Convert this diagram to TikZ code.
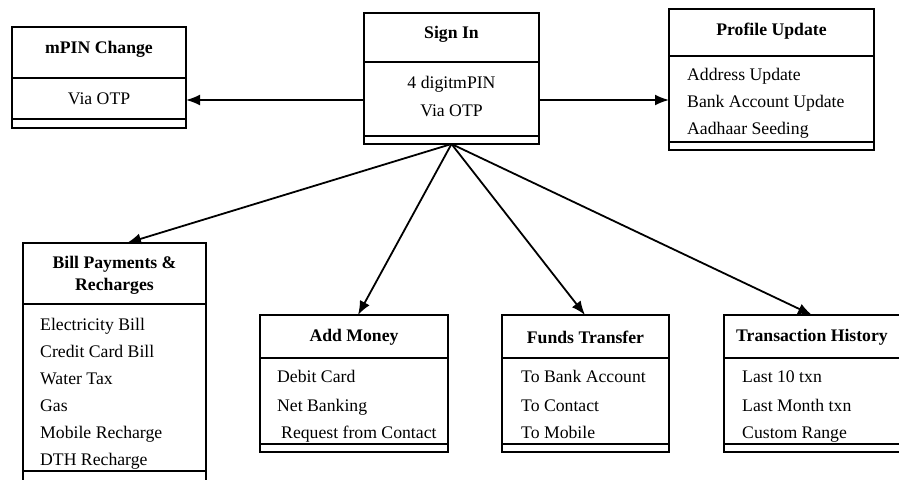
\documentclass[tikz,border=0pt]{standalone}
\usepackage{fontspec}
\setmainfont{Liberation Serif}
\usetikzlibrary{arrows.meta}
\begin{document}
\begin{tikzpicture}[x=1pt,y=-1pt,
  boxframe/.style={draw, line width=1.6pt, inner sep=0pt, outer sep=0pt, anchor=north west},
  divline/.style={line width=1.6pt},
  bandline/.style={line width=2.8pt},
  ttl/.style={font=\fontsize{17.7}{20}\selectfont\bfseries, align=center, inner sep=0pt},
  itm/.style={font=\fontsize{17.7}{20}\selectfont, anchor=west, inner sep=0pt, text height=12pt, text depth=4pt},
  itmc/.style={font=\fontsize{17.7}{20}\selectfont, inner sep=0pt, text height=12pt, text depth=4pt},
  conn/.style={line width=1.8pt, -{Latex[length=14pt,width=11pt]}}]
\useasboundingbox (0,0) rectangle (899,479);
\clip (0,0) rectangle (899,479);

% ---- Sign In
\node[boxframe, minimum width=175pt, minimum height=131pt] (signin) at (364,13) {};
\draw[divline] ([yshift=-49pt]signin.north west) -- ([yshift=-49pt]signin.north east);
\draw[bandline] ([yshift=8pt]signin.south west) -- ([yshift=8pt]signin.south east);
\node[ttl] (signinT) at (451.5,34) {Sign In};
\node[itmc] (signin1) at (451.5,84) {4 digitmPIN};
\node[itmc] (signin2) at (451.5,112) {Via OTP};

% ---- mPIN Change
\node[boxframe, minimum width=174pt, minimum height=101pt] (mpin) at (12,27) {};
\draw[divline] ([yshift=-51pt]mpin.north west) -- ([yshift=-51pt]mpin.north east);
\draw[bandline] ([yshift=9pt]mpin.south west) -- ([yshift=9pt]mpin.south east);
\node[ttl] (mpinT) at (99,49) {mPIN Change};
\node[itmc] (mpin1) at (99,100) {Via OTP};

% ---- Profile Update
\node[boxframe, minimum width=205pt, minimum height=141pt] (prof) at (669,9) {};
\draw[divline] ([yshift=-47pt]prof.north west) -- ([yshift=-47pt]prof.north east);
\draw[bandline] ([yshift=8pt]prof.south west) -- ([yshift=8pt]prof.south east);
\node[ttl] (profT) at (771.5,31) {Profile Update};
\node[itm] (prof1) at (687,76) {Address Update};
\node[itm] (prof2) at (687,103) {Bank Account Update};
\node[itm] (prof3) at (687,130) {Aadhaar Seeding};

% ---- Bill Payments & Recharges
\node[boxframe, minimum width=183pt, minimum height=238pt] (bill) at (23,243) {};
\draw[divline] ([yshift=-61pt]bill.north west) -- ([yshift=-61pt]bill.north east);
\draw[bandline] ([yshift=10pt]bill.south west) -- ([yshift=10pt]bill.south east);
\node[ttl] (billT) at (114.5,275) {Bill Payments \&\\[2pt]Recharges};
\node[itm] (bill1) at (40,326) {Electricity Bill};
\node[itm] (bill2) at (40,353) {Credit Card Bill};
\node[itm] (bill3) at (40,380) {Water Tax};
\node[itm] (bill4) at (40,407) {Gas};
\node[itm] (bill5) at (40,434) {Mobile Recharge};
\node[itm] (bill6) at (40,461) {DTH Recharge};

% ---- Add Money
\node[boxframe, minimum width=188pt, minimum height=137pt] (add) at (260,315) {};
\draw[divline] ([yshift=-43pt]add.north west) -- ([yshift=-43pt]add.north east);
\draw[bandline] ([yshift=8pt]add.south west) -- ([yshift=8pt]add.south east);
\node[ttl] (addT) at (354,337) {Add Money};
\node[itm] (add1) at (277,378) {Debit Card};
\node[itm] (add2) at (277,407) {Net Banking};
\node[itm] (add3) at (281,434) {Request from Contact};

% ---- Funds Transfer
\node[boxframe, minimum width=167pt, minimum height=137pt] (funds) at (502,315) {};
\draw[divline] ([yshift=-43pt]funds.north west) -- ([yshift=-43pt]funds.north east);
\draw[bandline] ([yshift=8pt]funds.south west) -- ([yshift=8pt]funds.south east);
\node[ttl] (fundsT) at (585.5,337) {Funds Transfer};
\node[itm] (funds1) at (521,378) {To Bank Account};
\node[itm] (funds2) at (521,407) {To Contact};
\node[itm] (funds3) at (521,434) {To Mobile};

% ---- Transaction History
\node[boxframe, minimum width=177pt, minimum height=137pt] (trans) at (724,315) {};
\draw[divline] ([yshift=-43pt]trans.north west) -- ([yshift=-43pt]trans.north east);
\draw[bandline] ([yshift=8pt]trans.south west) -- ([yshift=8pt]trans.south east);
\node[ttl] (transT) at (812,337) {Transaction History};
\node[itm] (trans1) at (742,378) {Last 10 txn};
\node[itm] (trans2) at (742,407) {Last Month txn};
\node[itm] (trans3) at (742,434) {Custom Range};

% ---- connector end points on the box borders
\coordinate (signinW) at (364,100);
\coordinate (signinE) at (539,100);
\coordinate (mpinE) at (186,100);
\coordinate (profW) at (669,100);
\coordinate (billTip) at (127,243);
\coordinate (addTip) at (358,315);
\coordinate (fundsTip) at (585,315);
\coordinate (transTip) at (812,315);

% ---- connectors
\draw[conn] (signinW) -- (mpinE);
\draw[conn] (signinE) -- (profW);
\draw[conn] (signin.south) -- (billTip);
\draw[conn] (signin.south) -- (addTip);
\draw[conn] (signin.south) -- (fundsTip);
\draw[conn] (signin.south) -- (transTip);
\end{tikzpicture}
\end{document}
